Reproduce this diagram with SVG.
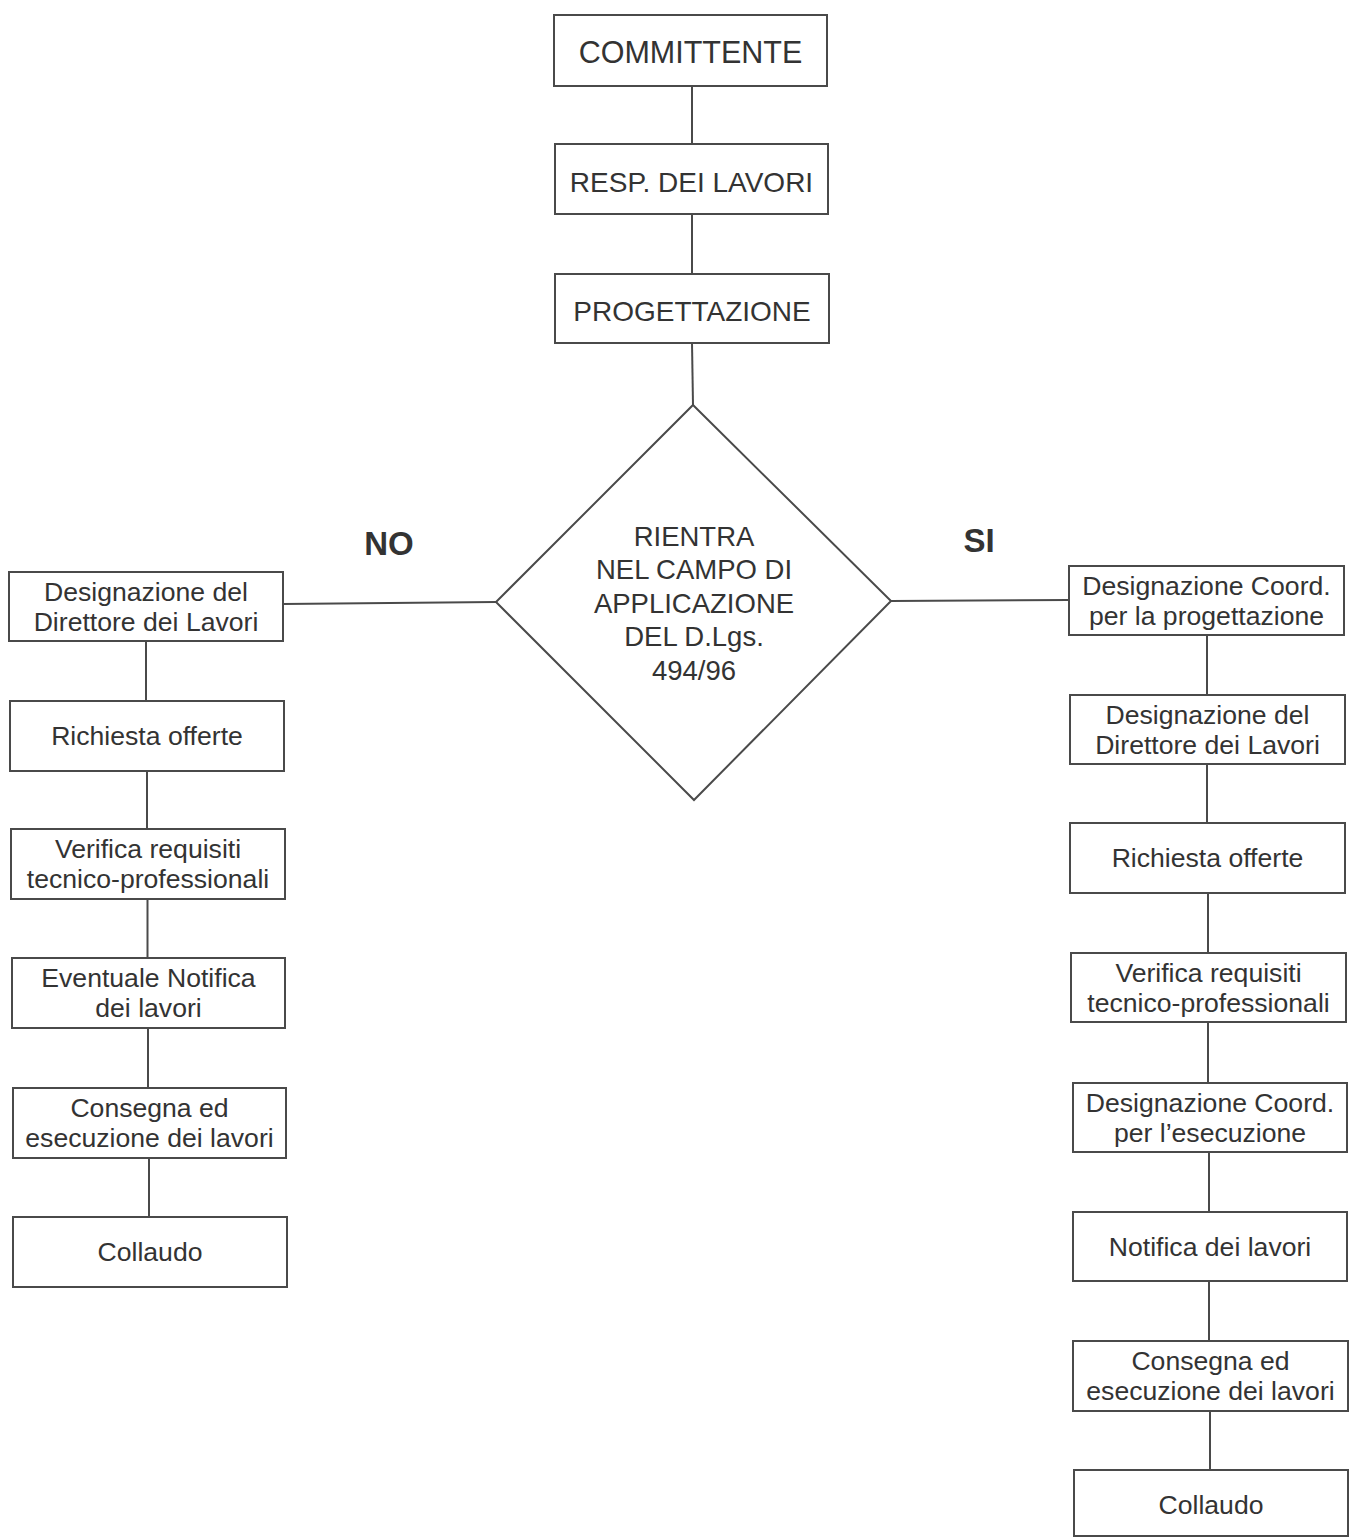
<svg xmlns="http://www.w3.org/2000/svg" width="1350" height="1538" viewBox="0 0 1350 1538">
<style>
.box{fill:#fff;stroke:#4a4a4a;stroke-width:2}
.t{font-family:"Liberation Sans",Arial,sans-serif;fill:#333;text-anchor:middle}
.top{font-size:28px}
.n{font-size:26.6px}
.d{font-size:27.5px}
.lbl{font-family:"Liberation Sans",Arial,sans-serif;font-weight:bold;font-size:33px;fill:#333;text-anchor:middle}
.c{stroke:#4a4a4a;stroke-width:2;fill:none}
</style>
<rect width="1350" height="1538" fill="#fff"/>
<g id="connectors">
<line class="c" x1="692" y1="86" x2="692" y2="144"/>
<line class="c" x1="692" y1="214" x2="692" y2="274"/>
<line class="c" x1="692" y1="343" x2="693" y2="405"/>
<line class="c" x1="283" y1="604" x2="496" y2="602"/>
<line class="c" x1="891" y1="601" x2="1069" y2="600"/>
<line class="c" x1="146" y1="641" x2="146" y2="701"/>
<line class="c" x1="147" y1="771" x2="147" y2="829"/>
<line class="c" x1="147.5" y1="899" x2="147.5" y2="958"/>
<line class="c" x1="148" y1="1028" x2="148" y2="1088"/>
<line class="c" x1="149" y1="1158" x2="149" y2="1217"/>
<line class="c" x1="1207" y1="635" x2="1207" y2="695"/>
<line class="c" x1="1207" y1="764" x2="1207" y2="823"/>
<line class="c" x1="1208" y1="893" x2="1208" y2="953"/>
<line class="c" x1="1208" y1="1022" x2="1208" y2="1083"/>
<line class="c" x1="1209" y1="1152" x2="1209" y2="1212"/>
<line class="c" x1="1209" y1="1281" x2="1209" y2="1341"/>
<line class="c" x1="1210" y1="1411" x2="1210" y2="1470"/>
</g>
<g id="committente"><rect class="box" x="554" y="15" width="273" height="71"/><text class="t top" x="690.5" y="63" style="font-size:30.5px">COMMITTENTE</text></g>
<g id="resp"><rect class="box" x="555" y="144" width="273" height="70"/><text class="t top" x="691.5" y="192">RESP. DEI LAVORI</text></g>
<g id="progettazione"><rect class="box" x="555" y="274" width="274" height="69"/><text class="t top" x="692" y="321">PROGETTAZIONE</text></g>
<g id="decision"><polygon class="box" points="693,405 891,601 694,800 496,602"/>
<text class="t d" x="694" y="546">RIENTRA</text>
<text class="t d" x="694" y="579">NEL CAMPO DI</text>
<text class="t d" x="694" y="612.5">APPLICAZIONE</text>
<text class="t d" x="694" y="646">DEL D.Lgs.</text>
<text class="t d" x="694" y="680">494/96</text></g>
<g id="label-no"><text class="lbl" x="389" y="555">NO</text></g>
<g id="label-si"><text class="lbl" x="979" y="552">SI</text></g>
<g id="l1"><rect class="box" x="9" y="572" width="274" height="69"/><text class="t n" x="146" y="601">Designazione del</text><text class="t n" x="146" y="631">Direttore dei Lavori</text></g>
<g id="l2"><rect class="box" x="10" y="701" width="274" height="70"/><text class="t n" x="147" y="745">Richiesta offerte</text></g>
<g id="l3"><rect class="box" x="11" y="829" width="274" height="70"/><text class="t n" x="148" y="858">Verifica requisiti</text><text class="t n" x="148" y="888">tecnico-professionali</text></g>
<g id="l4"><rect class="box" x="12" y="958" width="273" height="70"/><text class="t n" x="148.5" y="987">Eventuale Notifica</text><text class="t n" x="148.5" y="1017">dei lavori</text></g>
<g id="l5"><rect class="box" x="13" y="1088" width="273" height="70"/><text class="t n" x="149.5" y="1117">Consegna ed</text><text class="t n" x="149.5" y="1147">esecuzione dei lavori</text></g>
<g id="l6"><rect class="box" x="13" y="1217" width="274" height="70"/><text class="t n" x="150" y="1261">Collaudo</text></g>
<g id="r1"><rect class="box" x="1069" y="566" width="275" height="69"/><text class="t n" x="1206.5" y="594.5">Designazione Coord.</text><text class="t n" x="1206.5" y="624.5">per la progettazione</text></g>
<g id="r2"><rect class="box" x="1070" y="695" width="275" height="69"/><text class="t n" x="1207.5" y="723.5">Designazione del</text><text class="t n" x="1207.5" y="753.5">Direttore dei Lavori</text></g>
<g id="r3"><rect class="box" x="1070" y="823" width="275" height="70"/><text class="t n" x="1207.5" y="867">Richiesta offerte</text></g>
<g id="r4"><rect class="box" x="1071" y="953" width="275" height="69"/><text class="t n" x="1208.5" y="981.5">Verifica requisiti</text><text class="t n" x="1208.5" y="1011.5">tecnico-professionali</text></g>
<g id="r5"><rect class="box" x="1073" y="1083" width="274" height="69"/><text class="t n" x="1210" y="1111.5">Designazione Coord.</text><text class="t n" x="1210" y="1141.5">per l’esecuzione</text></g>
<g id="r6"><rect class="box" x="1073" y="1212" width="274" height="69"/><text class="t n" x="1210" y="1255.5">Notifica dei lavori</text></g>
<g id="r7"><rect class="box" x="1073" y="1341" width="275" height="70"/><text class="t n" x="1210.5" y="1370">Consegna ed</text><text class="t n" x="1210.5" y="1400">esecuzione dei lavori</text></g>
<g id="r8"><rect class="box" x="1074" y="1470" width="274" height="66"/><text class="t n" x="1211" y="1514">Collaudo</text></g>
</svg>
